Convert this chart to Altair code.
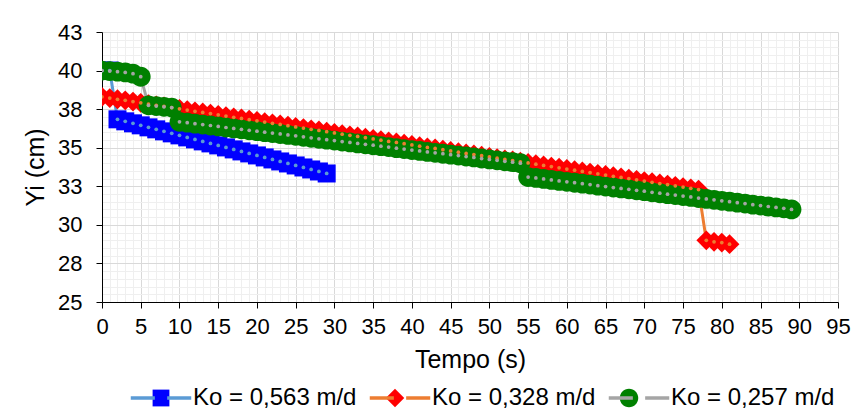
import altair as alt
import pandas as pd

# ---------------- data ----------------
labels = ["Ko = 0,563 m/d", "Ko = 0,328 m/d", "Ko = 0,257 m/d"]
marker_colors = ["#0000FF", "#FF0000", "#008000"]
line_colors = ["#5B9BD5", "#ED7D31", "#A5A5A5"]

t_blue = list(range(0, 30))
y_blue = [40.00, 40.00, 36.84, 36.71, 36.58, 36.45, 36.32, 36.19, 36.06, 35.93,
          35.80, 35.67, 35.54, 35.41, 35.28, 35.15, 35.02, 34.89, 34.76, 34.63,
          34.50, 34.37, 34.24, 34.11, 33.98, 33.85, 33.72, 33.59, 33.46, 33.33]

t_red = list(range(0, 82))
y_red = [38.30, 38.22, 38.14, 38.07, 37.99, 37.91, 37.83, 37.75, 37.68, 37.60,
         37.52, 37.44, 37.36, 37.29, 37.21, 37.13, 37.05, 36.97, 36.90, 36.82,
         36.74, 36.66, 36.58, 36.51, 36.43, 36.35, 36.27, 36.19, 36.12, 36.04,
         35.96, 35.88, 35.80, 35.73, 35.65, 35.57, 35.49, 35.41, 35.34, 35.26,
         35.18, 35.10, 35.02, 34.95, 34.87, 34.79, 34.71, 34.63, 34.56, 34.48,
         34.40, 34.32, 34.24, 34.17, 34.09, 34.01, 33.93, 33.85, 33.78, 33.70,
         33.62, 33.54, 33.46, 33.39, 33.31, 33.23, 33.15, 33.07, 33.00, 32.92,
         32.84, 32.76, 32.68, 32.61, 32.53, 32.45, 32.37, 32.29,
         29.00, 28.90, 28.85, 28.75]

t_green = list(range(0, 90))
y_green = [40.00, 39.97, 39.93, 39.88, 39.80, 39.60, 37.75, 37.70, 37.65, 37.60,
           36.68, 36.62, 36.56, 36.50, 36.44, 36.38, 36.31, 36.25, 36.19, 36.13,
           36.07, 36.01, 35.95, 35.89, 35.83, 35.77, 35.71, 35.64, 35.58, 35.52,
           35.46, 35.40, 35.34, 35.28, 35.22, 35.16, 35.10, 35.04, 34.97, 34.91,
           34.85, 34.79, 34.73, 34.67, 34.61, 34.55, 34.49, 34.43, 34.37, 34.30,
           34.24, 34.18, 34.12, 34.06, 34.00,
           33.10, 33.04, 32.98, 32.91, 32.85, 32.79, 32.73, 32.67, 32.61, 32.54,
           32.48, 32.42, 32.36, 32.30, 32.24, 32.18, 32.11, 32.05, 31.99, 31.93,
           31.87, 31.81, 31.74, 31.68, 31.62, 31.56, 31.50, 31.44, 31.38, 31.31,
           31.25, 31.19, 31.13, 31.07, 31.00]

x_ticks = list(range(0, 96))
y_ticks = [25 + 0.5 * i for i in range(36)]

# ---------------- table ----------------
rows = []
for lab, ts, ys in zip(labels, [t_blue, t_red, t_green], [y_blue, y_red, y_green]):
    for t, y in zip(ts, ys):
        rows.append({"series": lab, "mseries": lab + " ", "dseries": lab + "  ", "t": t, "y": y})
df = pd.DataFrame(rows)
mlabels = [l + " " for l in labels]
dlabels = [l + "  " for l in labels]

FONT = "Liberation Sans"
SYM = 3136  # nominal legend symbol size
EXT = "M-1.08,0M1.08,0"
shapes = [
    EXT + "M-0.30,-0.30H0.30V0.30H-0.30Z",
    EXT + "M0,-0.33L0.33,0L0,0.33L-0.33,0Z",
    EXT + "M-0.33,0A0.33,0.33 0 1,0 0.33,0A0.33,0.33 0 1,0 -0.33,0Z",
]
bar = "M-1.08,-0.06H-0.22V0.06H-1.08ZM0.22,-0.06H1.08V0.06H0.22Z"

xaxis = alt.Axis(
    values=x_ticks,
    labelExpr="datum.value % 5 === 0 ? datum.label : ''",
    gridColor={"condition": {"test": "datum.value % 5 === 0", "value": "#D9D9D9"}, "value": "#EFEFEF"},
    tickOpacity={"condition": {"test": "datum.value % 5 === 0", "value": 1}, "value": 0},
    labelOverlap=False, labelFlush=False, labelBound=False,
    tickSize=6, labelPadding=8, labelFontSize=22, labelFont=FONT, labelColor="#000000",
    domainColor="#000000", tickColor="#000000",
    titleFontSize=25, titleFont=FONT, titleFontWeight="normal", titleColor="#000000",
    titleY=57, titleBaseline="middle",
)
yaxis = alt.Axis(
    values=y_ticks,
    labelExpr="(datum.value * 2) % 5 === 0 ? format(datum.value, '.0f') : ''",
    gridColor={"condition": {"test": "(datum.value * 2) % 5 === 0", "value": "#D9D9D9"}, "value": "#EFEFEF"},
    tickOpacity={"condition": {"test": "(datum.value * 2) % 5 === 0", "value": 1}, "value": 0},
    labelOverlap=False, labelFlush=False, labelBound=False,
    tickSize=6, labelPadding=14, labelFontSize=22, labelFont=FONT, labelColor="#000000",
    domainColor="#000000", tickColor="#000000",
    titleFontSize=25, titleFont=FONT, titleFontWeight="normal", titleColor="#000000",
    titleX=-67, titleY=135, titleAngle=-90, titleAlign="center", titleBaseline="middle",
)

X = alt.X("t:Q", scale=alt.Scale(domain=[0, 95], nice=False, zero=False), axis=xaxis, title="Tempo (s)")
Y = alt.Y("y:Q", scale=alt.Scale(domain=[25, 42.5], nice=False, zero=False), axis=yaxis, title="Yi (cm)")

common_legend = dict(
    orient="none", legendX=31, legendY=338, direction="horizontal", title=None,
    symbolSize=SYM, labelFontSize=24, labelFont=FONT, labelColor="#000000", labelLimit=0,
    padding=0, symbolStrokeWidth=0, symbolOpacity=1,
)

lines = alt.Chart(df).mark_line(strokeWidth=3, clip=True).encode(
    x=X, y=Y,
    stroke=alt.Stroke("series:N", scale=alt.Scale(domain=labels, range=line_colors), legend=None),
    detail="series:N",
)

# marker legend: symbols only (labels empty), spacing matches the labelled legend
mleg = alt.Legend(labelExpr="''", labelOffset=4, columnPadding=171, **common_legend)
markers = alt.Chart(df).mark_point(filled=True, opacity=1, size=3600, strokeWidth=0, clip=True).encode(
    x=X, y=Y,
    fill=alt.Fill("mseries:N", scale=alt.Scale(domain=mlabels, range=marker_colors), legend=mleg),
    shape=alt.Shape("mseries:N", scale=alt.Scale(domain=mlabels, range=shapes), legend=mleg),
)

# line-colour dots on each point; its legend draws the line segments and the labels
dleg = alt.Legend(symbolType=bar, labelExpr="trim(datum.label)", labelOffset=4, columnPadding=12,
                  **common_legend)
dots = alt.Chart(df).mark_point(filled=True, size=14, opacity=1, shape="circle", strokeWidth=0, clip=True).encode(
    x=X, y=Y,
    color=alt.Color("dseries:N", scale=alt.Scale(domain=dlabels, range=line_colors), legend=dleg),
)

chart = alt.layer(lines, markers, dots).properties(
    width=736, height=270,
    autosize=alt.AutoSizeParams(type="none"),
    padding={"left": 94, "top": 24, "right": 15, "bottom": 109},
    background="#FFFFFF",
).configure_view(strokeWidth=0)

chart.save("out.html", embed_options={"renderer": "svg", "actions": False})
